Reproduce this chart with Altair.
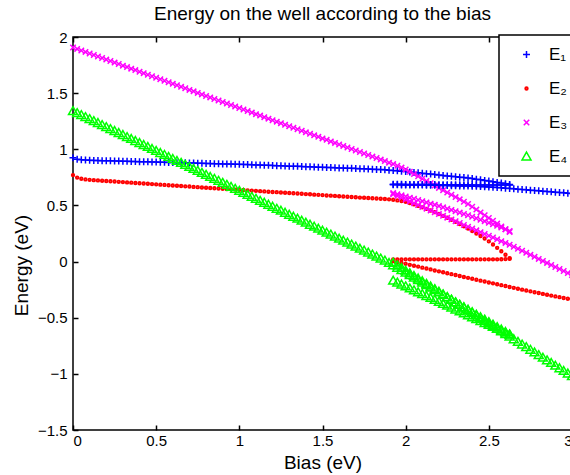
import altair as alt
import pandas as pd

# ---------------- data ----------------
series_labels = ["E₁", "E₂", "E₃", "E₄"]
series_colors = ["#0000ff", "#ff0000", "#ff00ff", "#00ff00"]

# bias sweeps (eV): A = 0 .. 2.625, B = 1.925 .. 2.625, C = 1.925 .. 3.0 (step 0.025)
bias_a = [round(i * 0.025, 3) for i in range(106)]
bias_b = [round(1.925 + i * 0.025, 3) for i in range(29)]
bias_c = [round(1.925 + i * 0.025, 3) for i in range(44)]

e1_a = [0.925, 0.912, 0.906, 0.904, 0.902, 0.901, 0.900, 0.899, 0.898, 0.897,
        0.896, 0.895, 0.894, 0.893, 0.892, 0.891, 0.890, 0.889, 0.888, 0.887,
        0.886, 0.885, 0.884, 0.883, 0.882, 0.881, 0.880, 0.879, 0.878, 0.877,
        0.876, 0.875, 0.874, 0.873, 0.872, 0.871, 0.870, 0.869, 0.868, 0.867,
        0.866, 0.865, 0.864, 0.862, 0.861, 0.860, 0.858, 0.857, 0.856, 0.854,
        0.853, 0.852, 0.850, 0.849, 0.848, 0.846, 0.845, 0.844, 0.842, 0.841,
        0.840, 0.838, 0.837, 0.836, 0.834, 0.833, 0.832, 0.830, 0.829, 0.827,
        0.826, 0.825, 0.823, 0.821, 0.819, 0.817, 0.814, 0.811, 0.808, 0.805,
        0.802, 0.798, 0.794, 0.790, 0.786, 0.782, 0.779, 0.775, 0.771, 0.767,
        0.763, 0.759, 0.756, 0.752, 0.748, 0.744, 0.739, 0.734, 0.728, 0.723,
        0.717, 0.711, 0.705, 0.699, 0.693, 0.687]
e1_b = [0.688, 0.688, 0.688, 0.687, 0.687, 0.687, 0.687, 0.686, 0.686, 0.686,
        0.686, 0.685, 0.685, 0.685, 0.685, 0.684, 0.684, 0.684, 0.684, 0.683,
        0.683, 0.683, 0.683, 0.682, 0.682, 0.682, 0.682, 0.681, 0.681]
e1_c = [0.684, 0.684, 0.683, 0.683, 0.682, 0.682, 0.681, 0.681, 0.680, 0.680,
        0.679, 0.679, 0.678, 0.677, 0.676, 0.675, 0.674, 0.673, 0.672, 0.671,
        0.670, 0.668, 0.666, 0.664, 0.662, 0.660, 0.657, 0.654, 0.651,
        0.648, 0.645, 0.642, 0.639, 0.636, 0.633, 0.630, 0.627, 0.624, 0.621,
        0.618, 0.615, 0.612, 0.609, 0.606]

e2_a = [0.770, 0.748, 0.738, 0.732, 0.728, 0.725, 0.723, 0.720, 0.718, 0.715,
        0.713, 0.710, 0.708, 0.705, 0.703, 0.700, 0.698, 0.695, 0.693, 0.690,
        0.688, 0.685, 0.683, 0.680, 0.678, 0.675, 0.673, 0.670, 0.668, 0.665,
        0.663, 0.660, 0.658, 0.655, 0.653, 0.650, 0.648, 0.645, 0.643, 0.641,
        0.639, 0.637, 0.634, 0.632, 0.630, 0.627, 0.625, 0.622, 0.620, 0.618,
        0.615, 0.613, 0.611, 0.608, 0.606, 0.604, 0.601, 0.599, 0.596, 0.594,
        0.592, 0.589, 0.587, 0.585, 0.582, 0.580, 0.577, 0.575, 0.573, 0.570,
        0.568, 0.566, 0.564, 0.562, 0.560, 0.557, 0.554, 0.550, 0.545, 0.539,
        0.532, 0.521, 0.509, 0.496, 0.483, 0.469, 0.455, 0.440, 0.424, 0.407,
        0.390, 0.372, 0.354, 0.335, 0.315, 0.294, 0.272, 0.250, 0.228, 0.205,
        0.180, 0.152, 0.122, 0.092, 0.061, 0.030]
e2_b = [0.020, 0.020, 0.020, 0.020, 0.020, 0.020, 0.020, 0.020, 0.020, 0.020,
        0.020, 0.020, 0.020, 0.020, 0.020, 0.020, 0.020, 0.020, 0.020, 0.020,
        0.020, 0.020, 0.020, 0.020, 0.020, 0.020, 0.021, 0.022, 0.025]
e2_c = [0.005, -0.003, -0.012, -0.020, -0.029, -0.037, -0.045, -0.054, -0.062, -0.070,
        -0.079, -0.087, -0.095, -0.104, -0.112, -0.120, -0.129, -0.137, -0.145, -0.153,
        -0.162, -0.170, -0.178, -0.186, -0.194, -0.202, -0.210, -0.218, -0.226, -0.234,
        -0.242, -0.250, -0.258, -0.265, -0.273, -0.280, -0.288, -0.295, -0.303, -0.310,
        -0.317, -0.324, -0.331, -0.338]

e3_a = [1.907, 1.894, 1.880, 1.867, 1.853, 1.840, 1.826, 1.813, 1.799, 1.786,
        1.772, 1.759, 1.745, 1.732, 1.718, 1.705, 1.691, 1.678, 1.664, 1.651,
        1.637, 1.624, 1.610, 1.597, 1.583, 1.570, 1.556, 1.543, 1.529, 1.516,
        1.502, 1.489, 1.475, 1.462, 1.448, 1.435, 1.421, 1.408, 1.394, 1.381,
        1.367, 1.354, 1.340, 1.327, 1.313, 1.300, 1.286, 1.273, 1.259, 1.246,
        1.232, 1.219, 1.205, 1.192, 1.178, 1.165, 1.151, 1.138, 1.124, 1.111,
        1.097, 1.084, 1.070, 1.057, 1.043, 1.030, 1.016, 1.003, 0.989, 0.976,
        0.962, 0.949, 0.935, 0.922, 0.908, 0.895, 0.881, 0.868, 0.853, 0.837,
        0.820, 0.800, 0.779, 0.759, 0.738, 0.718, 0.697, 0.677, 0.656, 0.636,
        0.615, 0.595, 0.574, 0.554, 0.533, 0.513, 0.488, 0.463, 0.438, 0.413,
        0.388, 0.363, 0.338, 0.313, 0.288, 0.263]
e3_b = [0.610, 0.600, 0.590, 0.580, 0.569, 0.559, 0.548, 0.538, 0.527, 0.516,
        0.505, 0.494, 0.483, 0.471, 0.460, 0.448, 0.436, 0.424, 0.412, 0.399,
        0.386, 0.373, 0.360, 0.346, 0.332, 0.318, 0.303, 0.288, 0.272]
e3_c = [0.600, 0.584, 0.568, 0.552, 0.536, 0.520, 0.504, 0.487, 0.471, 0.455,
        0.439, 0.423, 0.407, 0.391, 0.375, 0.359, 0.343, 0.326, 0.310, 0.294,
        0.278, 0.262, 0.246, 0.230, 0.214, 0.198, 0.182, 0.166, 0.150,
        0.132, 0.114, 0.096, 0.078, 0.060, 0.042, 0.024, 0.006, -0.012, -0.030,
        -0.048, -0.066, -0.084, -0.102, -0.120]

e4_a = [1.340, 1.322, 1.305, 1.287, 1.269, 1.251, 1.234, 1.216, 1.198, 1.180,
        1.163, 1.145, 1.127, 1.109, 1.092, 1.074, 1.056, 1.038, 1.021, 1.003,
        0.985, 0.967, 0.950, 0.932, 0.914, 0.896, 0.879, 0.861, 0.843, 0.825,
        0.808, 0.790, 0.772, 0.754, 0.737, 0.719, 0.701, 0.683, 0.666, 0.648,
        0.630, 0.612, 0.595, 0.577, 0.559, 0.541, 0.524, 0.506, 0.488, 0.470,
        0.453, 0.435, 0.417, 0.399, 0.382, 0.364, 0.346, 0.328, 0.311, 0.293,
        0.275, 0.257, 0.240, 0.222, 0.204, 0.186, 0.169, 0.151, 0.133, 0.115,
        0.098, 0.080, 0.062, 0.044, 0.027, 0.009, -0.012, -0.033, -0.055, -0.077,
        -0.099, -0.121, -0.143, -0.165, -0.187, -0.209, -0.231, -0.253, -0.275, -0.297,
        -0.319, -0.341, -0.363, -0.385, -0.407, -0.429, -0.451, -0.473, -0.495, -0.517,
        -0.539, -0.561, -0.583, -0.605, -0.627, -0.649]
e4_b = [-0.170, -0.187, -0.204, -0.221, -0.239, -0.256, -0.273, -0.290, -0.307, -0.324,
        -0.341, -0.359, -0.376, -0.393, -0.410, -0.427, -0.444, -0.461, -0.479, -0.496,
        -0.513, -0.530, -0.547, -0.564, -0.581, -0.599, -0.616, -0.633, -0.650]
e4_c = [-0.010, -0.034, -0.057, -0.081, -0.104, -0.128, -0.151, -0.175, -0.198, -0.222,
        -0.245, -0.269, -0.292, -0.316, -0.339, -0.363, -0.386, -0.410, -0.433, -0.457,
        -0.480, -0.504, -0.527, -0.551, -0.574, -0.598, -0.621, -0.645, -0.668, -0.692,
        -0.715, -0.739, -0.762, -0.786, -0.809, -0.833, -0.856, -0.880, -0.903, -0.927,
        -0.950, -0.974, -0.997, -1.021]

x_ticks = [0, 0.5, 1, 1.5, 2, 2.5, 3]
y_ticks = [-1.5, -1, -0.5, 0, 0.5, 1, 1.5, 2]

# ---------------- table ----------------
sets = [
    (bias_a, [e1_a, e2_a, e3_a, e4_a]),
    (bias_b, [e1_b, e2_b, e3_b, e4_b]),
    (bias_c, [e1_c, e2_c, e3_c, e4_c]),
]
rows = []
for bias, columns in sets:
    for label, values in zip(series_labels, columns):
        for b, v in zip(bias, values):
            rows.append({"bias": b, "energy": v, "series": label})
df = pd.DataFrame(rows)

FONT = "Liberation Sans"
# marker outlines in symbol units (one size for all, so the glyphs carry their own scale)
plus_path = "M-0.875,0L0.875,0M0,-0.875L0,0.875"
dot_path = ("M-0.36,0A0.36,0.36,0,1,0,0.36,0A0.36,0.36,0,1,0,-0.36,0Z"
            "M-0.12,0A0.12,0.12,0,1,0,0.12,0A0.12,0.12,0,1,0,-0.12,0Z")
x_path = "M-0.68,-0.68L0.68,0.68M-0.68,0.68L0.68,-0.68"
tri_path = "M0,-1.1L1.12,0.85L-1.12,0.85Z"
MARK_SIZE = 64

x_scale = alt.Scale(domain=[0, 3], nice=False, zero=False)
y_scale = alt.Scale(domain=[-1.5, 2], nice=False, zero=False)

legend = alt.Legend(
    title=None, orient="none", legendX=426, legendY=-2,
    fillColor="white", strokeColor="black", padding=11,
    labelFont=FONT, labelFontSize=17, labelColor="black",
    labelOffset=14, symbolOffset=8, rowPadding=16,
    symbolSize=MARK_SIZE, symbolStrokeWidth=1.5,
)

points = alt.Chart(df).mark_point(filled=False, strokeWidth=1.5, opacity=1, size=MARK_SIZE).encode(
    x=alt.X("bias:Q", scale=x_scale,
            axis=alt.Axis(orient="bottom", values=x_ticks, format="~g", offset=-5,
                          tickSize=5, domain=False, grid=False, labelPadding=3,
                          title="Bias (eV)", titlePadding=5)),
    y=alt.Y("energy:Q", scale=y_scale,
            axis=alt.Axis(values=y_ticks, format="~g", offset=-5, tickSize=5,
                          domain=False, grid=False, labelPadding=6,
                          title="Energy (eV)", titleX=-57, titleY=228,
                          titleAlign="center", titleBaseline="middle", titleAngle=270)),
    color=alt.Color("series:N", sort=series_labels,
                    scale=alt.Scale(domain=series_labels, range=series_colors), legend=legend),
    shape=alt.Shape("series:N", sort=series_labels,
                    scale=alt.Scale(domain=series_labels,
                                    range=[plus_path, dot_path, x_path, tri_path]),
                    legend=legend),
)

top_ticks = alt.Chart(pd.DataFrame({"t": x_ticks})).mark_point(opacity=0).encode(
    x=alt.X("t:Q", scale=x_scale,
            axis=alt.Axis(orient="top", values=x_ticks, labels=False, title=None,
                          offset=-5, tickSize=5, domain=False, grid=False)),
)

chart = alt.layer(points, top_ticks).resolve_axis(x="independent").properties(
    width=499, height=393,
    autosize=alt.AutoSizeParams(type="none"),
    padding={"left": 73, "top": 37, "right": -2, "bottom": 45},
    title=alt.TitleParams("Energy on the well according to the bias", font=FONT,
                          fontSize=19, fontWeight="normal", color="black",
                          anchor="middle", offset=6),
).configure_view(stroke="black", strokeWidth=1.5).configure_axis(
    labelFont=FONT, labelFontSize=15, labelColor="black",
    titleFont=FONT, titleFontSize=19, titleFontWeight="normal", titleColor="black",
    tickColor="black", tickWidth=1.5,
).configure_legend(strokeWidth=1.5)

chart.save("out.html", embed_options={"renderer": "svg", "actions": False})
